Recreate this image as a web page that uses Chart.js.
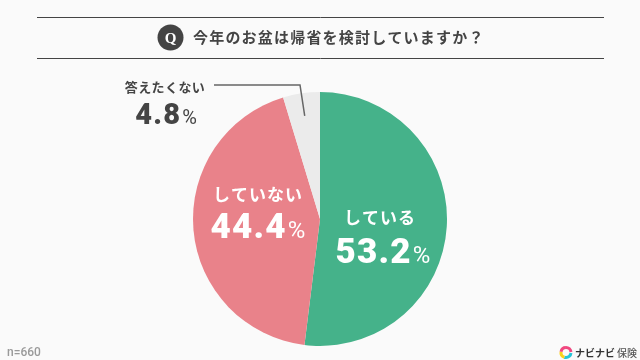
<!DOCTYPE html>
<html lang="ja">
<head>
    <meta charset="UTF-8">
    <title>今年のお盆は帰省を検討していますか</title>
    <script src="https://cdn.jsdelivr.net/npm/chart.js@4.4.0/dist/chart.umd.min.js"></script>
    <style>
        html, body { margin: 0; padding: 0; background: #fafafa; }
        #wrap { width: 640px; height: 360px; position: relative; }
    </style>
</head>
<body>
    <div id="wrap"><canvas id="pieChart" width="640" height="360"></canvas></div>

    <script>
        const categories = ['している', 'していない', '答えたくない'];
        const percents = [53.2, 44.4, 4.8];
        const colors = ['#45b28a', '#e9828a', '#ebebeb'];
        const questionText = '今年のお盆は帰省を検討していますか\uFF1F';
        const sampleText = 'n=660';
        const brandName = 'ナビナビ';
        const brandSuffix = '保険';

        const jpFont = '"Noto Sans CJK JP"';
        const numFont = 'Roboto';
        const dark = '#444444';

        function putText(ctx, text, x, y, font, color, align, spacing) {
            ctx.font = font;
            ctx.fillStyle = color;
            ctx.textAlign = align || 'left';
            ctx.textBaseline = 'alphabetic';
            ctx.letterSpacing = spacing || '0px';
            ctx.fillText(text, x, y);
            ctx.letterSpacing = '0px';
        }

        // big number + smaller % sign, centred on x
        function putPercent(ctx, value, x, y, size, color) {
            const num = value.toFixed(1);
            const numStyle = '900 ' + size + 'px ' + numFont;
            const pctStyle = '400 ' + Math.round(size * 0.68) + 'px ' + numFont;
            const gap = '1.2px';
            ctx.font = numStyle;
            ctx.letterSpacing = gap;
            const w1 = ctx.measureText(num).width;
            ctx.font = pctStyle;
            ctx.letterSpacing = '0px';
            const w2 = ctx.measureText('%').width;
            const left = x - (w1 + w2 + 1) / 2;
            putText(ctx, num, left, y, numStyle, color, 'left', gap);
            putText(ctx, '%', left + w1 + 1, y, pctStyle, color, 'left');
        }

        const decorPlugin = {
            id: 'decor',
            afterDraw(chart) {
                const ctx = chart.ctx;
                ctx.save();

                // header rules
                ctx.strokeStyle = dark;
                ctx.lineWidth = 1;
                ctx.beginPath();
                ctx.moveTo(37, 17.5); ctx.lineTo(604, 17.5);
                ctx.moveTo(37, 58.5); ctx.lineTo(604, 58.5);
                ctx.stroke();

                // question badge
                ctx.fillStyle = dark;
                ctx.beginPath();
                ctx.arc(170.5, 37.5, 13, 0, Math.PI * 2);
                ctx.fill();
                putText(ctx, 'Q', 170.5, 43, '700 15px "Liberation Serif"', '#ffffff', 'center');
                putText(ctx, questionText, 193, 43, '700 15px ' + jpFont, dark, 'left', '1.2px');

                // slice labels
                putText(ctx, categories[0], 380, 224, '700 17px ' + jpFont, '#ffffff', 'center', '1px');
                putPercent(ctx, percents[0], 383, 263, 35, '#ffffff');
                putText(ctx, categories[1], 258, 201, '700 17px ' + jpFont, '#ffffff', 'center', '1px');
                putPercent(ctx, percents[1], 258, 238, 35, '#ffffff');
                putText(ctx, categories[2], 165, 92, '700 13px ' + jpFont, dark, 'center', '0.4px');
                putPercent(ctx, percents[2], 166, 124, 29, dark);

                // leader line ends inside the small slice
                const arc = chart.getDatasetMeta(0).data[2];
                const mid = (arc.startAngle + arc.endAngle) / 2;
                const ex = arc.x + Math.cos(mid) * arc.outerRadius * 0.82;
                const ey = arc.y + Math.sin(mid) * arc.outerRadius * 0.82;
                ctx.strokeStyle = '#666666';
                ctx.lineWidth = 1.5;
                ctx.beginPath();
                ctx.moveTo(214, 85);
                ctx.lineTo(300, 85);
                ctx.lineTo(ex, ey);
                ctx.stroke();

                // footer
                putText(ctx, sampleText, 7, 356, '500 12px ' + numFont, '#9a9a9a', 'left');

                // brand mark
                const cx = 566, cy = 352.5, r = 5;
                ctx.lineWidth = 3;
                [['#f0477f', -1.6, -0.1], ['#25c4d8', 0.1, 1.9], ['#f8d21c', 1.9, 3.3], ['#f0477f', 3.3, 4.7]].forEach(s => {
                    ctx.strokeStyle = s[0];
                    ctx.beginPath();
                    ctx.arc(cx, cy, r, s[1], s[2]);
                    ctx.stroke();
                });
                putText(ctx, brandName, 575, 357, '700 10px ' + jpFont, '#333333', 'left');
                putText(ctx, brandSuffix, 617, 357, '500 10px ' + jpFont, '#555555', 'left');

                ctx.restore();
            }
        };

        new Chart(document.getElementById('pieChart'), {
            type: 'pie',
            data: {
                labels: categories,
                datasets: [{
                    data: percents,
                    backgroundColor: colors,
                    borderWidth: 0
                }]
            },
            options: {
                responsive: false,
                animation: false,
                layout: { padding: { top: 92, bottom: 14 } },
                plugins: {
                    legend: { display: false },
                    tooltip: { enabled: false }
                }
            },
            plugins: [decorPlugin]
        });
    </script>
</body>
</html>
